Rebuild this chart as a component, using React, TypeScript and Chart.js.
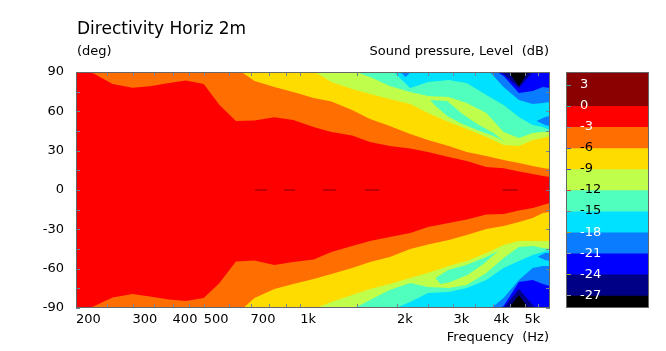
import React, { useEffect, useRef } from 'react';
import { Chart, registerables } from 'chart.js';

Chart.register(...registerables);

const FONT = 'DejaVu Sans';

// Frequency grid (Hz) on which the contour boundaries are read
const FREQS = [200, 230, 260, 300, 340, 390, 440, 500, 560, 630, 720, 830, 950, 1100, 1250, 1450, 1650, 1900, 2200, 2500, 2900, 3300, 3800, 4300, 4800, 5300, 5700, 6000];

// Upper / lower angle (deg) of the region whose level is >= the given dB value
const UP_M3 = [95, 88, 80.8, 78.0, 79.1, 81.6, 83.5, 80.8, 64.8, 52.6, 53.0, 55.4, 53.4, 48.0, 44.2, 41.6, 36.6, 33.6, 31.7, 29.0, 25.2, 22.2, 17.6, 16.5, 14.2, 12.2, 10.7, 9.9];
const LO_M3 = [-95, -88, -82.0, -79.3, -81.2, -83.5, -84.7, -82.4, -70.9, -54.5, -53.8, -57.2, -54.9, -53.0, -47.3, -42.7, -38.9, -35.8, -32.8, -28.2, -25.2, -22.5, -18.7, -18.3, -15.7, -13.8, -11.4, -9.9];
const UP_M6 = [95, 95, 95, 95, 95, 95, 95, 95, 95, 93, 83.1, 78.6, 74.7, 70.2, 67.5, 61.0, 54.1, 48.8, 42.7, 38.1, 33.6, 29.0, 25.9, 22.9, 20.6, 18.3, 16.8, 16.0];
const LO_M6 = [-95, -95, -95, -95, -95, -95, -95, -95, -95, -95, -82.4, -75.5, -71.7, -67.9, -64.1, -59.5, -54.9, -51.1, -45.0, -41.6, -38.1, -34.3, -29.7, -27.5, -24.4, -21.4, -17.5, -16.8];
const UP_M9 = [95, 95, 95, 95, 95, 95, 95, 95, 95, 95, 95, 95, 95, 90.5, 82.4, 77.0, 73.2, 69.4, 65.6, 58.7, 51.9, 46.5, 40.4, 34.3, 33.6, 38.1, 39.7, 41.2];
const LO_M9 = [-95, -95, -95, -95, -95, -95, -95, -95, -95, -95, -95, -95, -95, -90.8, -85.4, -80.1, -75.5, -71.7, -67.1, -63.3, -58.0, -54.2, -48.1, -42.0, -38.9, -38.9, -38.9, -38.9];
const UP_M12 = [95, 95, 95, 95, 95, 95, 95, 95, 95, 95, 95, 95, 95, 95, 95, 91, 86.2, 79.3, 74.7, 71.7, 70.9, 66.4, 58.7, 44.2, 39.7, 43.5, 44.2, 44.2];
const LO_M12 = [-95, -95, -95, -95, -95, -95, -95, -95, -95, -95, -95, -95, -95, -95, -95, -91, -83.9, -76.3, -70.9, -74.0, -74.7, -72.5, -63.3, -51.9, -43.5, -42.7, -44.2, -45.0];
const UP_M15 = [95, 95, 95, 95, 95, 95, 95, 95, 95, 95, 95, 95, 95, 95, 95, 95, 95, 93, 77.8, 82.4, 83.9, 81.6, 72.5, 64.8, 55.7, 49.6, 48.0, 45.8];
const LO_M15 = [-95, -95, -95, -95, -95, -95, -95, -95, -95, -95, -95, -95, -95, -95, -95, -95, -95, -92, -85.4, -78.6, -77.8, -74.7, -68.6, -59.5, -54.2, -49.6, -47.3, -45.8];
const UP_M18 = [95, 95, 95, 95, 95, 95, 95, 95, 95, 95, 95, 95, 95, 95, 95, 95, 95, 95, 95, 95, 95, 95, 93, 78.6, 68.6, 65.6, 66.4, 67.1];
const LO_M18 = [-95, -95, -95, -95, -95, -95, -95, -95, -95, -95, -95, -95, -95, -95, -95, -95, -95, -95, -95, -95, -95, -95, -93, -82.4, -68.6, -59.5, -58.0, -58.0];
const UP_M21 = [95, 95, 95, 95, 95, 95, 95, 95, 95, 95, 95, 95, 95, 95, 95, 95, 95, 95, 95, 95, 95, 95, 95, 86.9, 74.0, 75.5, 78.6, 77.8];
const LO_M21 = [-95, -95, -95, -95, -95, -95, -95, -95, -95, -95, -95, -95, -95, -95, -95, -95, -95, -95, -95, -95, -95, -95, -95, -88.5, -70.2, -68.6, -71.7, -73.2];
const UP_M24 = [95, 95, 95, 95, 95, 95, 95, 95, 95, 95, 95, 95, 95, 95, 95, 95, 95, 95, 95, 95, 95, 95, 95, 88.5, 77.8, 90, 95, 95];
const LO_M24 = [-95, -95, -95, -95, -95, -95, -95, -95, -95, -95, -95, -95, -95, -95, -95, -95, -95, -95, -95, -95, -95, -95, -95, -90, -75.5, -87.7, -95, -95];
const UP_M27 = [95, 95, 95, 95, 95, 95, 95, 95, 95, 95, 95, 95, 95, 95, 95, 95, 95, 95, 95, 95, 95, 95, 95, 95, 79.3, 95, 95, 95];
const LO_M27 = [-95, -95, -95, -95, -95, -95, -95, -95, -95, -95, -95, -95, -95, -95, -95, -95, -95, -95, -95, -95, -95, -95, -95, -95, -80.1, -95, -95, -95];

// Islands (closed outlines: frequency, angle)
const HOLE_UP_F = [2540, 2870, 3200, 3560, 4000, 4300, 4000, 3560, 3200, 2870, 2640];
const HOLE_UP_A = [68.6, 67.9, 58.0, 50.3, 43.5, 37.4, 41.2, 45.8, 50.3, 56.4, 64.1];
const HOLE_LO_F = [2640, 2890, 3290, 3800, 4140, 3720, 3320, 2930, 2730];
const HOLE_LO_A = [-67.1, -61.0, -57.2, -51.1, -46.5, -56.4, -64.8, -70.2, -71.7];
const LB_TOP_F = [2030, 2130, 2230];
const LB_TOP_A = [91, 86.2, 91];
const LB_RUP_F = [5450, 5800, 6000, 6000, 5800];
const LB_RUP_A = [52.6, 55.7, 56.4, 48.8, 49.6];
const LB_RLO_F = [5500, 5800, 6000, 6000, 5800];
const LB_RLO_A = [-51.0, -48.1, -48.1, -54.2, -53.4];

// Small on-axis (> 0 dB) segments
const DASH_START = [722, 889, 1177, 1592, 4266];
const DASH_END = [787, 963, 1293, 1761, 4752];

// Axis ticks
const XTICKS = [200, 250, 300, 350, 400, 450, 500, 600, 700, 800, 900, 1000, 1500, 2000, 2500, 3000, 3500, 4000, 4500, 5000, 5500];
const XTICK_LABELS = ['200', '', '300', '', '400', '', '500', '', '700', '', '', '1k', '', '2k', '', '3k', '', '4k', '', '5k', ''];
const YTICKS = [-90, -75, -60, -45, -30, -15, 0, 15, 30, 45, 60, 75, 90];
const YTICK_LABELS = ['-90', '', '-60', '', '-30', '', '0', '', '30', '', '60', '', '90'];

// Colour scale
const CB_EDGES = [4.8, 0, -3, -6, -9, -12, -15, -18, -21, -24, -27, -28.8];
const CB_TICKS = [3, 0, -3, -6, -9, -12, -15, -18, -21, -24, -27];

const C = {
  darkred: '#8b0000', red: '#ff0000', orange: '#ff6e00', yellow: '#ffdc00', lgreen: '#bfff4c',
  aqua: '#50ffbe', cyan: '#00e0ff', lblue: '#0a7cff', blue: '#0000ff', navy: '#000086', black: '#000000',
};
const BAND_COLORS = [C.darkred, C.red, C.orange, C.yellow, C.lgreen, C.aqua, C.cyan, C.lblue, C.blue, C.navy, C.black];
const CB_TEXT = ['#fff', '#fff', '#fff', '#000', '#000', '#000', '#000', '#fff', '#fff', '#fff', '#fff'];
const CB_MARKS = ['#2f9f9f', '#2f9f9f', '#7a8fa8', '#2a5fbf', '#2a4fc0', '#e0402a', '#9a7f6a', '#b0a02a', '#9a9a9a', '#a0a02a', '#9a9a9a'];

const band = (up: number[], lo: number[]) => [
  ...FREQS.map((f, i) => ({ x: f, y: up[i] })),
  ...FREQS.map((f, i) => ({ x: f, y: lo[i] })).reverse(),
];
const outline = (fs: number[], as: number[]) => fs.map((f, i) => ({ x: f, y: as[i] }));

const frame = {
  id: 'frame',
  beforeDatasetsDraw(chart: any) {
    const { ctx, chartArea: a } = chart;
    ctx.save();
    ctx.fillStyle = C.black;
    ctx.fillRect(a.left, a.top, a.right - a.left, a.bottom - a.top);
    ctx.restore();
  },
  afterDraw(chart: any) {
    const { ctx, chartArea: a, scales } = chart;
    ctx.save();
    ctx.lineWidth = 1;
    ctx.strokeStyle = '#6f8596';
    ctx.beginPath();
    scales.x.ticks.forEach((t: any) => {
      const p = Math.round(scales.x.getPixelForValue(t.value)) + 0.5;
      ctx.moveTo(p, a.top); ctx.lineTo(p, a.top + 4);
      ctx.moveTo(p, a.bottom); ctx.lineTo(p, a.bottom - 4);
    });
    scales.y.ticks.forEach((t: any) => {
      const p = Math.round(scales.y.getPixelForValue(t.value)) + 0.5;
      ctx.moveTo(a.left, p); ctx.lineTo(a.left + 4, p);
      ctx.moveTo(a.right, p); ctx.lineTo(a.right - 4, p);
    });
    ctx.stroke();
    ctx.strokeStyle = '#666666';
    ctx.strokeRect(a.left + 0.5, a.top + 0.5, a.right - a.left - 1, a.bottom - a.top - 1);
    ctx.restore();
  },
};

const cbFrame = {
  id: 'cbFrame',
  afterDraw(chart: any) {
    const { ctx, chartArea: a, scales } = chart;
    ctx.save();
    ctx.lineWidth = 1;
    scales.y.ticks.forEach((t: any, i: number) => {
      const p = Math.round(scales.y.getPixelForValue(t.value)) + 0.5;
      ctx.strokeStyle = CB_MARKS[i];
      ctx.beginPath();
      ctx.moveTo(a.left + 1, p); ctx.lineTo(a.left + 5, p);
      ctx.stroke();
    });
    ctx.strokeStyle = '#666666';
    ctx.strokeRect(a.left + 0.5, a.top + 0.5, a.right - a.left - 1, a.bottom - a.top - 1);
    ctx.restore();
  },
};

export default function App() {
  const mainRef = useRef<HTMLCanvasElement>(null);
  const barRef = useRef<HTMLCanvasElement>(null);

  useEffect(() => {
    const layers: { data: { x: number; y: number }[]; color: string }[] = [
      { data: band(UP_M27, LO_M27), color: C.navy },
      { data: band(UP_M24, LO_M24), color: C.blue },
      { data: band(UP_M21, LO_M21), color: C.lblue },
      { data: band(UP_M18, LO_M18), color: C.cyan },
      { data: outline(LB_TOP_F, LB_TOP_A), color: C.lblue },
      { data: outline(LB_RUP_F, LB_RUP_A), color: C.lblue },
      { data: outline(LB_RLO_F, LB_RLO_A), color: C.lblue },
      { data: band(UP_M15, LO_M15), color: C.aqua },
      { data: band(UP_M12, LO_M12), color: C.lgreen },
      { data: outline(HOLE_UP_F, HOLE_UP_A), color: C.aqua },
      { data: outline(HOLE_LO_F, HOLE_LO_A), color: C.aqua },
      { data: band(UP_M9, LO_M9), color: C.yellow },
      { data: band(UP_M6, LO_M6), color: C.orange },
      { data: band(UP_M3, LO_M3), color: C.red },
    ];
    const n = layers.length + 1;
    const datasets: any[] = layers.map((l, i) => ({
      data: l.data,
      backgroundColor: l.color,
      borderWidth: 0,
      pointRadius: 0,
      fill: 'shape',
      tension: 0,
      order: n - i,
    }));
    const dashData: any[] = [];
    DASH_START.forEach((s, i) => {
      dashData.push({ x: s, y: 0 }, { x: DASH_END[i], y: 0 }, { x: DASH_END[i], y: NaN });
    });
    datasets.push({
      data: dashData,
      borderColor: '#800000',
      borderWidth: 1.2,
      pointRadius: 0,
      fill: false,
      spanGaps: false,
      order: 0,
    });

    const main = new Chart(mainRef.current as HTMLCanvasElement, {
      type: 'line',
      data: { datasets },
      options: {
        responsive: false,
        animation: false,
        events: [],
        layout: { padding: { left: 0, top: 72, right: 116, bottom: 0 } },
        plugins: { legend: { display: false }, tooltip: { enabled: false } },
        scales: {
          x: {
            type: 'logarithmic',
            min: 200,
            max: 6000,
            afterFit: (s: any) => { s.height = 43; },
            afterBuildTicks: (s: any) => { s.ticks = XTICKS.map((v) => ({ value: v })); },
            grid: { display: false, drawTicks: false },
            border: { display: false },
            ticks: {
              autoSkip: false,
              maxRotation: 0,
              minRotation: 0,
              align: 'start',
              padding: 4,
              color: '#000',
              font: { family: FONT, size: 13 },
              callback: (_v: any, i: number) => XTICK_LABELS[i],
            },
          },
          y: {
            type: 'linear',
            min: -90,
            max: 90,
            afterFit: (s: any) => { s.width = 76; },
            afterBuildTicks: (s: any) => { s.ticks = YTICKS.map((v) => ({ value: v })); },
            grid: { display: false, drawTicks: false },
            border: { display: false },
            ticks: {
              autoSkip: false,
              padding: 12,
              color: '#000',
              font: { family: FONT, size: 13 },
              callback: (_v: any, i: number) => YTICK_LABELS[i],
            },
          },
        },
      } as any,
      plugins: [frame],
    });

    const bar = new Chart(barRef.current as HTMLCanvasElement, {
      type: 'bar',
      data: {
        labels: [''],
        datasets: BAND_COLORS.map((c, i) => ({
          data: [[CB_EDGES[i + 1], CB_EDGES[i]]],
          backgroundColor: c,
          borderWidth: 0,
          grouped: false,
          barPercentage: 1,
          categoryPercentage: 1,
        })) as any,
      },
      options: {
        responsive: false,
        animation: false,
        events: [],
        layout: { padding: 0 },
        plugins: { legend: { display: false }, tooltip: { enabled: false } },
        scales: {
          x: { display: false },
          y: {
            min: CB_EDGES[CB_EDGES.length - 1],
            max: CB_EDGES[0],
            afterBuildTicks: (s: any) => { s.ticks = CB_TICKS.map((v) => ({ value: v })); },
            afterFit: (s: any) => { s.width = 0; s.paddingTop = 0; s.paddingBottom = 0; },
            grid: { display: false, drawTicks: false },
            border: { display: false },
            ticks: {
              z: 1,
              mirror: true,
              padding: 14,
              font: { family: FONT, size: 13 },
              color: (ctx: any) => CB_TEXT[CB_TICKS.indexOf(ctx.tick.value)],
              callback: (v: any) => String(v),
            },
          },
        },
      } as any,
      plugins: [cbFrame],
    });

    return () => {
      main.destroy();
      bar.destroy();
    };
  }, []);

  const txt: React.CSSProperties = { position: 'absolute', fontFamily: FONT, color: '#000', whiteSpace: 'pre', margin: 0 };

  return (
    <div style={{ position: 'absolute', left: 0, top: 0, width: 666, height: 351, background: '#fff', overflow: 'hidden' }}>
      <canvas ref={mainRef} width={666} height={351} style={{ position: 'absolute', left: 0, top: 0, width: 666, height: 351 }} />
      <canvas ref={barRef} width={83} height={236} style={{ position: 'absolute', left: 566, top: 72, width: 83, height: 236 }} />
      <div style={{ ...txt, left: 77, top: 18, fontSize: 17, lineHeight: '20px' }}>Directivity Horiz 2m</div>
      <div style={{ ...txt, left: 77, top: 43, fontSize: 13, lineHeight: '16px' }}>(deg)</div>
      <div style={{ ...txt, left: 0, width: 549, textAlign: 'right', top: 43, fontSize: 13, lineHeight: '16px' }}>Sound pressure, Level  (dB)</div>
      <div style={{ ...txt, left: 0, width: 549, textAlign: 'right', top: 329, fontSize: 13, lineHeight: '16px' }}>Frequency  (Hz)</div>
    </div>
  );
}
